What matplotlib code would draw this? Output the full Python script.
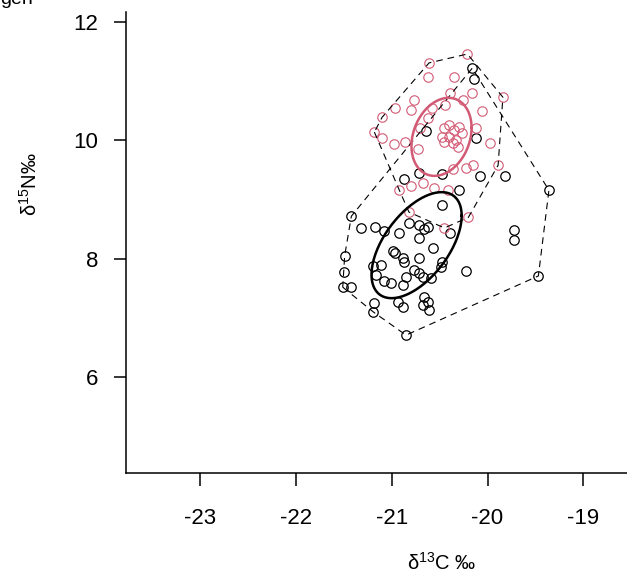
import numpy as np
import matplotlib
matplotlib.use('Agg')
import matplotlib.pyplot as plt

plt.rcParams['font.family'] = ['Liberation Sans', 'DejaVu Sans']
plt.rcParams['mathtext.fontset'] = 'custom'
plt.rcParams['mathtext.rm'] = 'Liberation Sans'

# group 1 (black)
black_d13c = [-20.16, -20.14, -20.64, -20.12, -20.71, -20.48, -20.08, -19.82, -20.87, -20.30,
              -20.47, -19.36, -21.42, -21.32, -21.17, -21.08, -20.92, -20.82, -20.71, -20.66,
              -20.62, -20.72, -20.39, -19.72, -19.72, -20.99, -20.97, -20.88, -20.87, -20.72,
              -20.57, -20.47, -20.49, -21.49, -21.50, -21.51, -21.42, -21.19, -21.11, -21.16,
              -21.08, -21.01, -20.88, -20.85, -20.77, -20.72, -20.67, -20.59, -20.22, -19.47,
              -21.18, -21.19, -20.93, -20.88, -20.66, -20.62, -20.67, -20.61, -20.85]
black_d15n = [11.22, 11.04, 10.16, 10.04, 9.45, 9.43, 9.40, 9.40, 9.35, 9.16,
              8.91, 9.16, 8.72, 8.52, 8.54, 8.47, 8.43, 8.60, 8.57, 8.50,
              8.54, 8.35, 8.43, 8.48, 8.32, 8.13, 8.10, 8.01, 7.94, 8.01,
              8.18, 7.94, 7.86, 8.05, 7.77, 7.52, 7.52, 7.88, 7.89, 7.72,
              7.62, 7.59, 7.56, 7.69, 7.81, 7.76, 7.69, 7.67, 7.79, 7.71,
              7.25, 7.10, 7.27, 7.18, 7.35, 7.27, 7.22, 7.13, 6.71]

# group 2 (pink)
pink_d13c = [-20.21, -20.61, -20.62, -19.84, -20.35, -20.39, -20.26, -20.16, -20.77, -20.97,
             -20.80, -21.10, -20.58, -20.44, -20.06, -21.18, -21.10, -20.98, -20.86, -20.62,
             -20.70, -20.12, -19.97, -20.73, -20.45, -20.40, -20.35, -20.30, -20.48, -20.40,
             -20.33, -20.27, -20.45, -20.36, -20.31, -20.36, -20.22, -20.15, -19.89, -20.92,
             -20.80, -20.67, -20.56, -20.41, -20.82, -20.20, -20.45]
pink_d15n = [11.46, 11.31, 11.07, 10.73, 11.07, 10.80, 10.68, 10.80, 10.68, 10.55,
             10.51, 10.39, 10.55, 10.60, 10.50, 10.14, 10.04, 9.94, 9.97, 10.38,
             10.21, 10.21, 9.96, 9.85, 10.21, 10.26, 10.17, 10.23, 10.06, 10.06,
             10.01, 10.12, 9.97, 9.96, 9.89, 9.52, 9.53, 9.58, 9.58, 9.16,
             9.23, 9.28, 9.19, 9.16, 8.79, 8.70, 8.52]

# standard ellipses: centre and shape matrix (x var, y var, covariance)
black_ell = {'mx': -20.74, 'my': 8.23, 'sxx': 0.2209, 'syy': 0.8023, 'sxy': 0.2339}
pink_ell = {'mx': -20.48, 'my': 10.06, 'sxx': 0.0982, 'syy': 0.4344, 'sxy': 0.0482}

x_ticks = [-23, -22, -21, -20, -19]
y_ticks = [6, 8, 10, 12]

black_col = 'black'
pink_col = '#D25A74'


def hull(xs, ys):
    pts = sorted(set(zip(xs, ys)))

    def cross(o, a, b):
        return (a[0] - o[0]) * (b[1] - o[1]) - (a[1] - o[1]) * (b[0] - o[0])
    lower, upper = [], []
    for p in pts:
        while len(lower) >= 2 and cross(lower[-2], lower[-1], p) <= 0:
            lower.pop()
        lower.append(p)
    for p in reversed(pts):
        while len(upper) >= 2 and cross(upper[-2], upper[-1], p) <= 0:
            upper.pop()
        upper.append(p)
    h = lower[:-1] + upper[:-1]
    h.append(h[0])
    return np.array(h)


def ellipse(e):
    m = np.array([[e['sxx'], e['sxy']], [e['sxy'], e['syy']]])
    L = np.linalg.cholesky(m)
    t = np.linspace(0, 2 * np.pi, 200)
    xy = L @ np.vstack([np.cos(t), np.sin(t)])
    return e['mx'] + xy[0], e['my'] + xy[1]


fig = plt.figure(figsize=(6.27, 5.84), dpi=100)
ax = fig.add_axes([126 / 627, 111 / 584, 632 / 627, 461 / 584])

ax.plot(black_d13c, black_d15n, 'o', mfc='none', mec=black_col, ms=6.8, mew=0.9)
ax.plot(pink_d13c, pink_d15n, 'o', mfc='none', mec=pink_col, ms=6.8, mew=0.8)

for xs, ys in [(black_d13c, black_d15n), (pink_d13c, pink_d15n)]:
    h = hull(xs, ys)
    ax.plot(h[:, 0], h[:, 1], color='black', lw=0.8, ls=(0, (6, 4.5)))

ex, ey = ellipse(black_ell)
ax.plot(ex, ey, color=black_col, lw=1.8)
ex, ey = ellipse(pink_ell)
ax.plot(ex, ey, color=pink_col, lw=1.8)

ax.set_xlim(-23.77, -17.18)
ax.set_ylim(4.38, 12.17)
ax.spines['top'].set_visible(False)
ax.spines['right'].set_visible(False)
ax.spines['left'].set_linewidth(1.1)
ax.spines['bottom'].set_linewidth(1.1)
ax.set_xticks(x_ticks)
ax.set_yticks(y_ticks)
ax.set_xticklabels([str(v) for v in x_ticks])
ax.set_yticklabels([str(v) for v in y_ticks])
ax.tick_params(axis='both', direction='out', length=9, width=1.1, labelsize=16)
ax.tick_params(axis='x', pad=16)
ax.tick_params(axis='y', pad=11)

fig.text(442 / 627, 1 - 563 / 584, r'$\mathrm{\delta}^{13}$C ‰', ha='center', va='center', fontsize=14.5)
fig.text(30 / 627, 1 - 184 / 584, r'$\mathrm{\delta}^{15}$N‰', ha='center', va='center',
         rotation=90, fontsize=14.5)
fig.text(0.0, 1.0, 'gen', ha='left', va='center', fontsize=14)

fig.savefig('out.png', dpi=100)
